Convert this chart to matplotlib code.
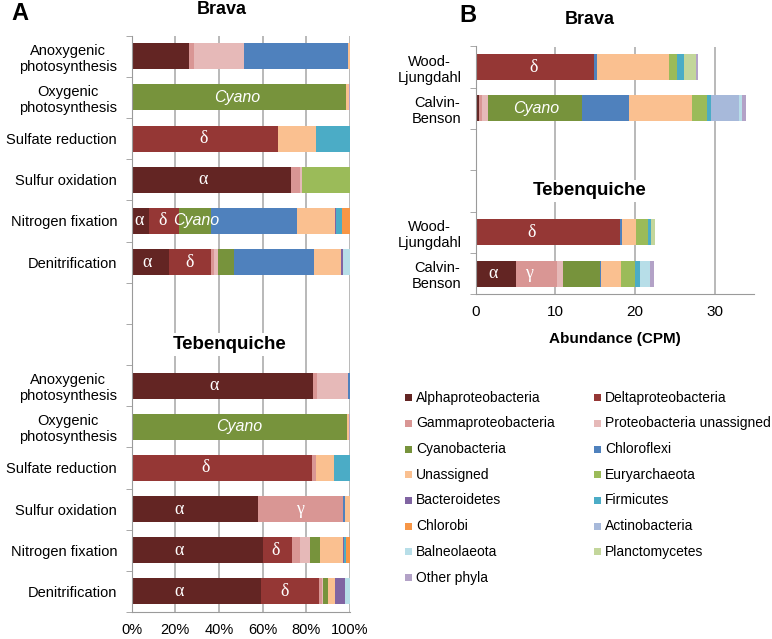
import matplotlib
matplotlib.use("Agg")
import matplotlib.pyplot as plt
from matplotlib.patches import Rectangle

plt.rcParams['font.family'] = ['Liberation Sans', 'DejaVu Sans']

taxa = ["Alphaproteobacteria", "Deltaproteobacteria", "Gammaproteobacteria",
        "Proteobacteria unassigned", "Cyanobacteria", "Chloroflexi", "Unassigned",
        "Euryarchaeota", "Bacteroidetes", "Firmicutes", "Chlorobi", "Actinobacteria",
        "Balneolaeota", "Planctomycetes", "Other phyla"]
colors = ["#632523", "#953735", "#D99694", "#E6B9B8", "#77933C", "#4F81BD", "#FAC090",
          "#9BBB59", "#8064A2", "#4BACC6", "#F79646", "#A7B9DA", "#B7DEE8", "#C3D69B",
          "#B3A2C7"]

# panel A: functions (Brava then Tebenquiche), percent of reads
functions = ["Anoxygenic\nphotosynthesis", "Oxygenic\nphotosynthesis", "Sulfate reduction",
             "Sulfur oxidation", "Nitrogen fixation", "Denitrification"]
a_alpha = [26.2, 0, 0, 73.2, 7.9, 17.3, 83.1, 0.8, 0.3, 58.0, 60.3, 59.1]
a_delta = [0, 0, 66.8, 0, 13.9, 19.0, 0, 0, 82.2, 0, 13.3, 26.7]
a_gamma = [2.3, 0, 0, 3.7, 0, 1.6, 2.0, 0, 1.9, 38.6, 3.3, 1.4]
a_proteo_un = [22.8, 0, 0, 0.9, 0, 1.8, 14.0, 0, 0, 0, 4.7, 0.6]
a_cyano = [0, 98.3, 0, 0, 14.4, 7.3, 0, 98.0, 0, 0, 4.8, 2.0]
a_chloroflexi = [47.9, 0, 0, 0, 39.4, 36.5, 0.9, 0, 0, 1.1, 0, 0]
a_unassigned = [0.8, 1.3, 17.5, 0, 17.7, 12.4, 0, 0.8, 8.4, 2.3, 10.5, 3.4]
a_eury = [0, 0, 0, 22.2, 0, 0, 0, 0, 0, 0, 0, 0]
a_bacteroidetes = [0, 0, 0, 0, 0.5, 0.7, 0, 0, 0, 0, 0.5, 4.7]
a_firmicutes = [0, 0, 15.7, 0, 2.4, 0, 0, 0, 7.2, 0, 0.6, 0]
a_chlorobi = [0, 0, 0, 0, 3.8, 0, 0, 0, 0, 0, 2.0, 0]
a_actino = [0] * 12
a_balneo = [0, 0, 0, 0, 0, 3.4, 0, 0, 0, 0, 0, 2.1]
a_plancto = [0] * 12
a_other = [0, 0.4, 0, 0, 0, 0, 0, 0.4, 0, 0, 0, 0]

# panel B: carbon fixation pathways, abundance (CPM)
pathways = ["Wood-\nLjungdahl", "Calvin-\nBenson"]
b_alpha = [0, 0.45, 0, 5.06]
b_delta = [14.9, 0, 18.1, 0]
b_gamma = [0, 0.35, 0, 5.1]
b_proteo_un = [0, 0.8, 0, 0.85]
b_cyano = [0, 11.7, 0, 4.6]
b_chloroflexi = [0.3, 5.9, 0.3, 0.1]
b_unassigned = [9.1, 8.0, 1.7, 2.5]
b_eury = [1.0, 1.8, 1.5, 1.8]
b_bacteroidetes = [0, 0, 0, 0]
b_firmicutes = [0.9, 0.5, 0.4, 0.6]
b_chlorobi = [0, 0, 0, 0]
b_actino = [0, 3.55, 0, 0]
b_balneo = [0, 0.35, 0, 1.25]
b_plancto = [1.5, 0, 0.5, 0]
b_other = [0.2, 0.6, 0, 0.55]

panel_a = [a_alpha, a_delta, a_gamma, a_proteo_un, a_cyano, a_chloroflexi, a_unassigned,
           a_eury, a_bacteroidetes, a_firmicutes, a_chlorobi, a_actino, a_balneo,
           a_plancto, a_other]
panel_b = [b_alpha, b_delta, b_gamma, b_proteo_un, b_cyano, b_chloroflexi, b_unassigned,
           b_eury, b_bacteroidetes, b_firmicutes, b_chlorobi, b_actino, b_balneo,
           b_plancto, b_other]

# in-bar labels: (bar index, x value, text)
labels_a = [(1, 48.4, "Cyano"), (2, 32.8, "δ"), (3, 32.5, "α"), (4, 3.5, "α"),
            (4, 14.2, "δ"), (4, 29.5, "Cyano"), (5, 6.9, "α"), (5, 26.7, "δ"),
            (6, 37.8, "α"), (7, 49.3, "Cyano"), (8, 34.0, "δ"), (9, 21.8, "α"),
            (9, 77.0, "γ"), (10, 21.8, "α"), (10, 66.1, "δ"), (11, 21.8, "α"),
            (11, 70.2, "δ")]
labels_b = [(0, 7.3, "δ"), (1, 7.6, "Cyano"), (2, 7.0, "δ"), (3, 2.2, "α"), (3, 6.7, "γ")]

W, H = 772, 639
fig = plt.figure(figsize=(W / 100, H / 100), dpi=100)


def px_axes(left, top, right, bottom):
    return fig.add_axes([left / W, 1 - bottom / H, (right - left) / W, (bottom - top) / H])


def draw_panel(ax, series, ypos, labels):
    lefts = [0] * len(ypos)
    for vals, col in zip(series, colors):
        ax.barh(ypos, vals, left=lefts, height=0.63, color=col, zorder=2)
        lefts = [l + v for l, v in zip(lefts, vals)]
    for i, x, t in labels:
        if t == "Cyano":
            ax.text(x, ypos[i], t, color="white", fontsize=11.5, style="italic",
                    ha="center", va="center", zorder=3)
        else:
            ax.text(x, ypos[i], t, color="white", fontsize=13, ha="center", va="center",
                    family=["Liberation Serif", "DejaVu Serif"], zorder=3)


def style_axes(ax, nslots, ypad):
    ax.set_ylim(nslots - 0.5, -0.5)
    for s in ["top", "right"]:
        ax.spines[s].set_visible(False)
    for s in ["left", "bottom"]:
        ax.spines[s].set_color("#9A9A9A")
    ax.grid(axis="x", color="#A6A6A6", linewidth=1.1, zorder=0)
    ax.set_axisbelow(True)
    ax.tick_params(axis="y", which="major", length=0, labelsize=10.5, pad=ypad)
    ax.set_yticks([k + 0.5 for k in range(-1, nslots)], minor=True)
    ax.tick_params(axis="y", which="minor", length=4, color="#9A9A9A", direction="out")
    ax.tick_params(axis="x", length=0, labelsize=10.5, pad=8)


# panel A
axA = px_axes(131.7, 35.7, 350, 612)
ypos_a = list(range(6)) + list(range(8, 14))
draw_panel(axA, panel_a, ypos_a, labels_a)
style_axes(axA, 14, 10.5)
axA.set_xlim(0, 100)
axA.set_xticks(range(0, 101, 20))
axA.set_xticklabels([f"{v}%" for v in range(0, 101, 20)])
axA.set_yticks(ypos_a)
axA.set_yticklabels(functions * 2, multialignment="center")
axA.text(0.45, 7, "Tebenquiche", transform=axA.get_yaxis_transform(), fontsize=13.5,
         fontweight="bold", ha="center", va="center", zorder=4,
         bbox=dict(facecolor="white", edgecolor="none", pad=2))

# panel B
axB = px_axes(475.7, 46.5, 754.3, 294.2)
ypos_b = [0, 1, 4, 5]
draw_panel(axB, panel_b, ypos_b, labels_b)
style_axes(axB, 6, 10)
axB.set_xlim(0, 35)
axB.set_xticks([0, 10, 20, 30])
axB.tick_params(axis="x", labelsize=11)
axB.set_yticks(ypos_b)
axB.set_yticklabels(pathways * 2, multialignment="center")
axB.set_xlabel("Abundance (CPM)", fontsize=11, fontweight="bold", labelpad=9)
axB.text(0.41, 3, "Tebenquiche", transform=axB.get_yaxis_transform(), fontsize=13.5,
         fontweight="bold", ha="center", va="center", zorder=4,
         bbox=dict(facecolor="white", edgecolor="none", pad=2))

# titles and panel letters
fig.text(222 / W, 1 - 10 / H, "Brava", fontsize=13, fontweight="bold", ha="center", va="center")
fig.text(590 / W, 1 - 19 / H, "Brava", fontsize=13, fontweight="bold", ha="center", va="center")
fig.text(20 / W, 1 - 14 / H, "A", fontsize=17, fontweight="bold", ha="center", va="center")
fig.text(468 / W, 1 - 16 / H, "B", fontsize=17, fontweight="bold", ha="center", va="center")

# legend, two columns
for i, (name, col) in enumerate(zip(taxa, colors)):
    x = 405 + (i % 2) * 189
    y = 397.7 + (i // 2) * 25.7
    fig.add_artist(Rectangle((x / W, 1 - (y + 3.5) / H), 7 / W, 7 / H,
                             transform=fig.transFigure, facecolor=col, edgecolor="none"))
    fig.text((x + 11) / W, 1 - y / H, name, fontsize=10, ha="left", va="center")

fig.savefig("out.png", dpi=100)
